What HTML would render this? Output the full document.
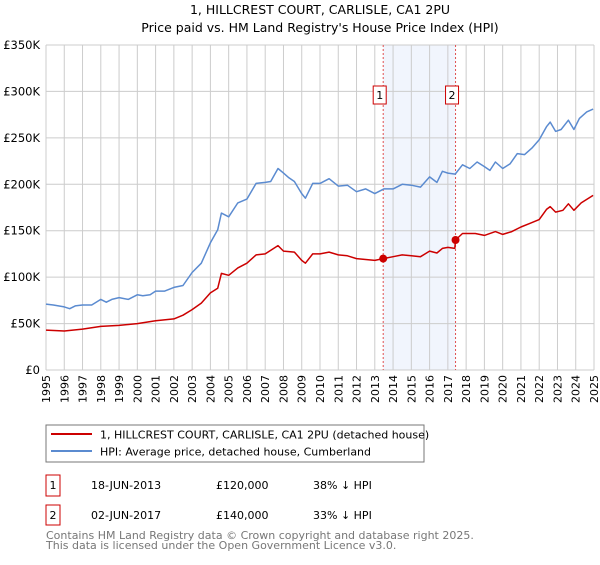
<!DOCTYPE html>
<html><head><meta charset="utf-8"><style>
body{margin:0;background:#fff;font-family:"Liberation Sans","DejaVu Sans",sans-serif;}
svg text{font-family:"DejaVu Sans","Liberation Sans",sans-serif;}
</style></head><body>
<svg id="c" width="600" height="560" xmlns="http://www.w3.org/2000/svg">
<text x="320" y="14" text-anchor="middle" font-size="12.5">1, HILLCREST COURT, CARLISLE, CA1 2PU</text>
<text x="320" y="32" text-anchor="middle" font-size="12.5">Price paid vs. HM Land Registry's House Price Index (HPI)</text>
<g id="grid"></g><g id="series"></g><g id="axes"></g>
<rect x="46" y="425" width="378" height="37" fill="#fff" stroke="#777"/>
<line x1="51" y1="434" x2="92" y2="434" stroke="#cc0000" stroke-width="2"/>
<text x="100" y="438.5" font-size="11">1, HILLCREST COURT, CARLISLE, CA1 2PU (detached house)</text>
<line x1="51" y1="451" x2="92" y2="451" stroke="#5b8bd0" stroke-width="2"/>
<text x="100" y="455.5" font-size="11">HPI: Average price, detached house, Cumberland</text>
<g>
<rect x="46" y="475" width="14" height="21" fill="#fff" stroke="#cc0000"/><text x="53" y="489" font-size="11" text-anchor="middle">1</text>
<text x="91" y="489" font-size="11">18-JUN-2013</text><text x="216" y="489" font-size="11">£120,000</text><text x="313" y="489" font-size="11">38% ↓ HPI</text></g>
<g>
<rect x="46" y="505" width="14" height="20" fill="#fff" stroke="#cc0000"/><text x="53" y="519" font-size="11" text-anchor="middle">2</text>
<text x="91" y="519" font-size="11">02-JUN-2017</text><text x="216" y="519" font-size="11">£140,000</text><text x="313" y="519" font-size="11">33% ↓ HPI</text></g>
<text x="46" y="539" font-size="11" fill="#777">Contains HM Land Registry data © Crown copyright and database right 2025.</text>
<text x="46" y="549" font-size="11" fill="#777">This data is licensed under the Open Government Licence v3.0.</text>
</svg>
<script>
const hpiYears=[1995,1995.4,1996,1996.3,1996.6,1997,1997.5,1998,1998.3,1998.6,1999,1999.5,2000,2000.3,2000.7,2001,2001.5,2002,2002.5,2003,2003.5,2004,2004.4,2004.6,2005,2005.5,2006,2006.5,2007,2007.3,2007.7,2008,2008.3,2008.6,2009,2009.2,2009.6,2010,2010.5,2011,2011.5,2012,2012.5,2013,2013.5,2014,2014.5,2015,2015.5,2016,2016.4,2016.7,2017,2017.4,2017.8,2018.2,2018.6,2019,2019.3,2019.6,2020,2020.4,2020.8,2021.2,2021.6,2022,2022.4,2022.6,2022.9,2023.2,2023.6,2023.9,2024.2,2024.6,2024.95];
const hpiValues=[71,70,68,66,69,70,70,76,73,76,78,76,81,80,81,85,85,89,91,105,115,137,151,169,165,180,184,201,202,203,217,212,207,203,190,185,201,201,206,198,199,192,195,190,195,195,200,199,197,208,202,214,212,211,221,217,224,219,215,224,217,222,233,232,239,248,262,267,257,259,269,259,271,278,281];
const priceYears=[1995,1996,1997,1998,1999,2000,2001,2002,2002.5,2003,2003.5,2004,2004.4,2004.6,2005,2005.5,2006,2006.5,2007,2007.7,2008,2008.6,2009,2009.2,2009.6,2010,2010.5,2011,2011.5,2012,2013,2013.46,2014,2014.5,2015,2015.5,2016,2016.4,2016.7,2017,2017.38,2017.42,2017.8,2018.5,2019,2019.6,2020,2020.5,2021,2021.5,2022,2022.4,2022.6,2022.9,2023.3,2023.6,2023.9,2024.3,2024.95];
const priceValues=[43,42,44,47,48,50,53,55,59,65,72,83,88,104,102,110,115,124,125,134,128,127,118,115,125,125,127,124,123,120,118,120,122,124,123,122,128,126,131,132,131,140,147,147,145,149,146,149,154,158,162,173,176,170,172,179,172,180,188];
const saleYears=[2013.46,2017.42];
const saleValues=[120,140];
const saleLabels=["1","2"];
const yTicks=[0,50,100,150,200,250,300,350];
const yTickLabels=["£0","£50K","£100K","£150K","£200K","£250K","£300K","£350K"];
const xTicks=[1995,1996,1997,1998,1999,2000,2001,2002,2003,2004,2005,2006,2007,2008,2009,2010,2011,2012,2013,2014,2015,2016,2017,2018,2019,2020,2021,2022,2023,2024,2025];
const X0=46,X1=594,Y0=370,Y1=45;
const xs=y=>X0+(y-1995)/30*(X1-X0);
const ys=v=>Y0-v/350*(Y0-Y1);
const NS="http://www.w3.org/2000/svg";
function mk(tag,attrs,parent){const e=document.createElementNS(NS,tag);for(const k in attrs)e.setAttribute(k,attrs[k]);parent.appendChild(e);return e;}
const grid=document.getElementById('grid'),ser=document.getElementById('series'),ax=document.getElementById('axes');
let r=mk('rect',{x:xs(saleYears[0]),y:Y1,width:xs(saleYears[1])-xs(saleYears[0]),height:Y0-Y1,fill:'#eef3fc',opacity:0.8},grid);


xTicks.forEach(t=>{const l=mk('line',{x1:xs(t),x2:xs(t),y1:Y1,y2:Y0,stroke:'#ccc'},grid);


const tx=mk('text',{x:0,y:0,'font-size':11,'text-anchor':'end',transform:`translate(${xs(t)+4},375) rotate(-90)`},ax);tx.textContent=t;

});
yTicks.forEach((t,i)=>{const l=mk('line',{x1:X0,x2:X1,y1:ys(t),y2:ys(t),stroke:'#ccc'},grid);


const tx=mk('text',{x:40,y:ys(t)+4,'font-size':11.5,'text-anchor':'end'},ax);tx.textContent=yTickLabels[i];

});
saleYears.forEach((s,i)=>{const l=mk('line',{x1:xs(s),x2:xs(s),y1:Y1,y2:Y0,stroke:'#e05050','stroke-dasharray':'2,2'},grid);

});
function path(xa,va,col,name){const d=xa.map((y,i)=>(i?'L':'M')+xs(y).toFixed(1)+','+ys(va[i]).toFixed(1)).join('');
const p=mk('path',{d:d,fill:'none',stroke:col,'stroke-width':1.5,'stroke-linejoin':'round'},ser);

}
path(hpiYears,hpiValues,'#5b8bd0','hpi-line');
path(priceYears,priceValues,'#cc0000','price-line');
saleYears.forEach((s,i)=>{const c=mk('circle',{cx:xs(s),cy:ys(saleValues[i]),r:4,fill:'#cc0000'},ser);


const g=mk('g',{},ser);


mk('rect',{x:xs(s)-10,y:86,width:13,height:18,fill:'#fff',stroke:'#cc0000'},g);
const t=mk('text',{x:xs(s)-3.5,y:99,'font-size':11,'text-anchor':'middle'},g);t.textContent=saleLabels[i];});
</script>
</body></html>
